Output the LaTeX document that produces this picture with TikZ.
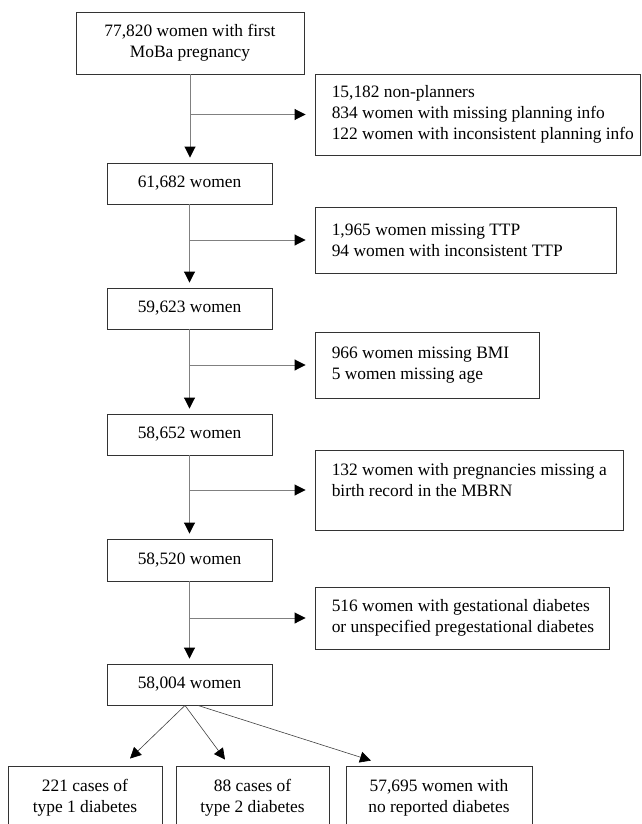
\documentclass[tikz,border=0pt]{standalone}
\usepackage{fontspec}
\setmainfont{Liberation Serif}
\usetikzlibrary{arrows.meta,calc}
\newcommand{\flowfont}{\fontsize{17.4}{21}\selectfont}
\begin{document}
\begin{tikzpicture}[x=1pt,y=-1pt,
  mainbox/.style={draw=black!80, line width=0.9pt, inner sep=0pt, align=center, font=\flowfont},
  sidebox/.style={draw=black!80, line width=0.9pt, inner sep=0pt},
  sidetext/.style={anchor=west, align=left, inner sep=0pt, xshift=17pt, font=\flowfont},
  conn/.style={draw=black!50, line width=0.9pt, -{Triangle[length=11pt,width=11pt,black]}, shorten >=5pt},
  hconn/.style={conn, shorten >=9pt},
  diag/.style={draw=black!75, line width=0.6pt, -{Triangle[length=11pt,width=11pt,black]}}]
\useasboundingbox (0,0) rectangle (641,824);

% main column
\node[mainbox, minimum width=228, minimum height=62] (n0) at (190,43) {77,820 women with first\\MoBa pregnancy};
\node[mainbox, minimum width=165, minimum height=41] (n1) at (189.5,183.5) {61,682 women};
\node[mainbox, minimum width=165, minimum height=41] (n2) at (189.5,308.5) {59,623 women};
\node[mainbox, minimum width=165, minimum height=41] (n3) at (189.5,434.5) {58,652 women};
\node[mainbox, minimum width=165, minimum height=42] (n4) at (189.5,560) {58,520 women};
\node[mainbox, minimum width=165, minimum height=41] (n5) at (189.5,684.5) {58,004 women};

% exclusion boxes
\node[sidebox, minimum width=325, minimum height=81,
  label={[sidetext]west:{15,182 non-planners\\834 women with missing planning info\\122 women with inconsistent planning info}}] (s1) at (477.5,114.5) {};
\node[sidebox, minimum width=301, minimum height=66,
  label={[sidetext]west:{1,965 women missing TTP\\94 women with inconsistent TTP}}] (s2) at (465.5,240) {};
\node[sidebox, minimum width=224, minimum height=66,
  label={[sidetext]west:{966 women missing BMI\\5 women missing age}}] (s3) at (427,365) {};
\node[sidebox, minimum width=308, minimum height=80,
  label={[sidetext]west:{132 women with pregnancies missing a\\birth record in the MBRN\\\mbox{}}}] (s4) at (469,490) {};
\node[sidebox, minimum width=294, minimum height=62,
  label={[sidetext]west:{516 women with gestational diabetes\\or unspecified pregestational diabetes}}] (s5) at (462,618) {};

% outcome boxes
\node[mainbox, minimum width=154, minimum height=63] (t1) at (85,797.5) {221 cases of\\type 1 diabetes};
\node[mainbox, minimum width=153, minimum height=63] (t2) at (252.5,797.5) {88 cases of\\type 2 diabetes};
\node[mainbox, minimum width=186, minimum height=63] (t3) at (439,797.5) {57,695 women with\\no reported diabetes};

% vertical flow
\draw[conn] (n0.south) -- (n0.south |- n1.north);
\draw[conn] (n1.south) -- (n1.south |- n2.north);
\draw[conn] (n2.south) -- (n2.south |- n3.north);
\draw[conn] (n3.south) -- (n3.south |- n4.north);
\draw[conn] (n4.south) -- (n4.south |- n5.north);

% branches
\draw[hconn] (n0.south |- s1.west) -- (s1.west);
\draw[hconn] (n1.south |- s2.west) -- (s2.west);
\draw[hconn] (n2.south |- s3.west) -- (s3.west);
\draw[hconn] (n3.south |- s4.west) -- (s4.west);
\draw[hconn] (n4.south |- s5.west) -- (s5.west);

% split
\coordinate (d0) at ($(n5.south)+(-4.5,0)$);
\coordinate (d3) at ($(n5.south)+(8.5,0)$);
\coordinate (e1) at ($(t1.north)+(45,-7)$);
\coordinate (e2) at ($(t2.north)+(-27.5,-6)$);
\coordinate (e3) at ($(t3.north)+(-68,-5)$);
\draw[diag] (d0) -- (e1);
\draw[diag] (d0) -- (e2);
\draw[diag] (d3) -- (e3);
\end{tikzpicture}
\end{document}
